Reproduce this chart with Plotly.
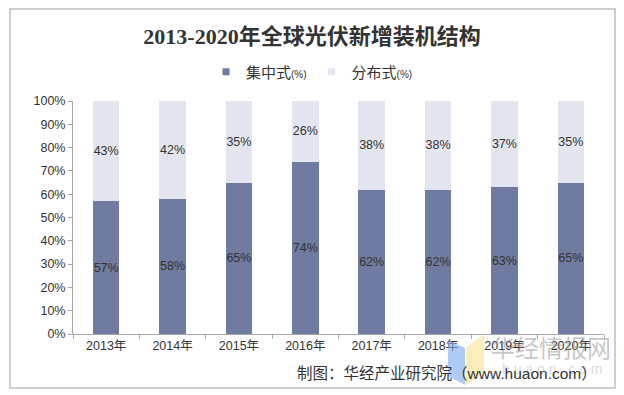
import plotly.graph_objects as go

years = ["2013年", "2014年", "2015年", "2016年", "2017年", "2018年", "2019年", "2020年"]
centralized = [57, 58, 65, 74, 62, 62, 63, 65]
distributed = [43, 42, 35, 26, 38, 38, 37, 35]
y_ticks = [0, 10, 20, 30, 40, 50, 60, 70, 80, 90, 100]
y_tick_labels = [f"{v}%" for v in y_ticks]
series_names = ["集中式", "分布式"]

W, H = 624, 395
L, R, T, B = 73, 604, 101, 334

def px(x):
    return (x - L) / (R - L)

def py(y):
    return (B - y) / (B - T)

DARK = "#6F7BA1"
LIGHT = "#E3E6EF"
TXT = "#333333"
FONT = "Liberation Sans, Arial, Noto Sans CJK SC, sans-serif"

fig = go.Figure()
for vals, color in [(centralized, DARK), (distributed, LIGHT)]:
    fig.add_trace(go.Bar(
        x=years, y=vals, showlegend=False,
        marker=dict(color=color, line=dict(width=0)),
        text=[f"{v}%" for v in vals], textposition="inside",
        insidetextanchor="middle", textangle=0, constraintext="none",
        textfont=dict(color=TXT, size=12.5, family=FONT),
    ))

# legend entries with small square swatches
for name, color in zip(series_names, [DARK, LIGHT]):
    fig.add_trace(go.Scatter(
        x=[None], y=[None], mode="markers",
        name=f"{name}<span style='font-size:10px'>(%)</span>",
        marker=dict(symbol="square", size=7, color=color),
    ))

shapes = [
    dict(type="rect", xref="paper", yref="paper", x0=px(10), x1=px(615), y0=py(388), y1=py(9),
         line=dict(color="#BFBFBF", width=1.5), fillcolor="rgba(0,0,0,0)", layer="below"),
    dict(type="path", xref="paper", yref="paper",
         path=f"M {px(448)} {py(340)} L {px(465)} {py(348)} L {px(465)} {py(385)} L {px(448)} {py(376)} Z",
         fillcolor="rgba(120,170,240,0.6)", line=dict(width=0)),
    dict(type="path", xref="paper", yref="paper",
         path=f"M {px(466)} {py(348)} L {px(484)} {py(334)} L {px(484)} {py(372)} L {px(466)} {py(385)} Z",
         fillcolor="rgba(250,225,140,0.6)", line=dict(width=0)),
]

annotations = [
    dict(text="华经情报网", xref="paper", yref="paper", x=px(551), y=py(346),
         xanchor="center", yanchor="middle", showarrow=False,
         font=dict(size=24, color="rgba(150,150,150,0.55)", family="Noto Sans CJK SC")),
    dict(text="h u a o n . c o m", xref="paper", yref="paper", x=px(552), y=py(369),
         xanchor="center", yanchor="middle", showarrow=False,
         font=dict(size=14, color="rgba(180,180,180,0.5)", family=FONT)),
    dict(text="制图：华经产业研究院（www.huaon.com）", xref="paper", yref="paper",
         x=px(599), y=py(373), xanchor="right", yanchor="middle", showarrow=False,
         font=dict(size=15.5, color=TXT, family=FONT)),
]

fig.update_layout(
    width=W, height=H,
    margin=dict(l=L, r=W - R, t=T, b=H - B, autoexpand=False),
    paper_bgcolor="white", plot_bgcolor="white",
    barmode="stack", bargap=0.6,
    title=dict(text="<b>2013-2020年全球光伏新增装机结构</b>", x=0.5, xref="container",
               y=1 - 36 / H, yref="container", xanchor="center", yanchor="middle",
               font=dict(size=22, color=TXT, family="Liberation Serif, Noto Sans CJK SC, serif")),
    legend=dict(orientation="h", x=0.5, xref="container", xanchor="center",
                y=1 - 72 / H, yref="container", yanchor="middle",
                font=dict(size=15, color=TXT, family=FONT),
                itemwidth=30, traceorder="normal", bgcolor="rgba(0,0,0,0)"),
    xaxis=dict(showline=True, linecolor="#A6A6A6", linewidth=1, ticks="outside",
               tickson="boundaries", ticklen=4, tickcolor="#A6A6A6",
               tickfont=dict(size=12.5, color=TXT, family=FONT), showgrid=False),
    yaxis=dict(range=[0, 100], tickvals=y_ticks, ticktext=y_tick_labels,
               showline=True, linecolor="#A6A6A6", linewidth=1, ticks="outside",
               ticklen=4, tickcolor="#A6A6A6", showgrid=False, zeroline=False,
               tickfont=dict(size=12.5, color=TXT, family=FONT)),
    shapes=shapes, annotations=annotations,
)

fig.write_html("out.html", config={"displayModeBar": False},
               post_script="document.body.style.margin='0';document.body.style.overflow='hidden';")
